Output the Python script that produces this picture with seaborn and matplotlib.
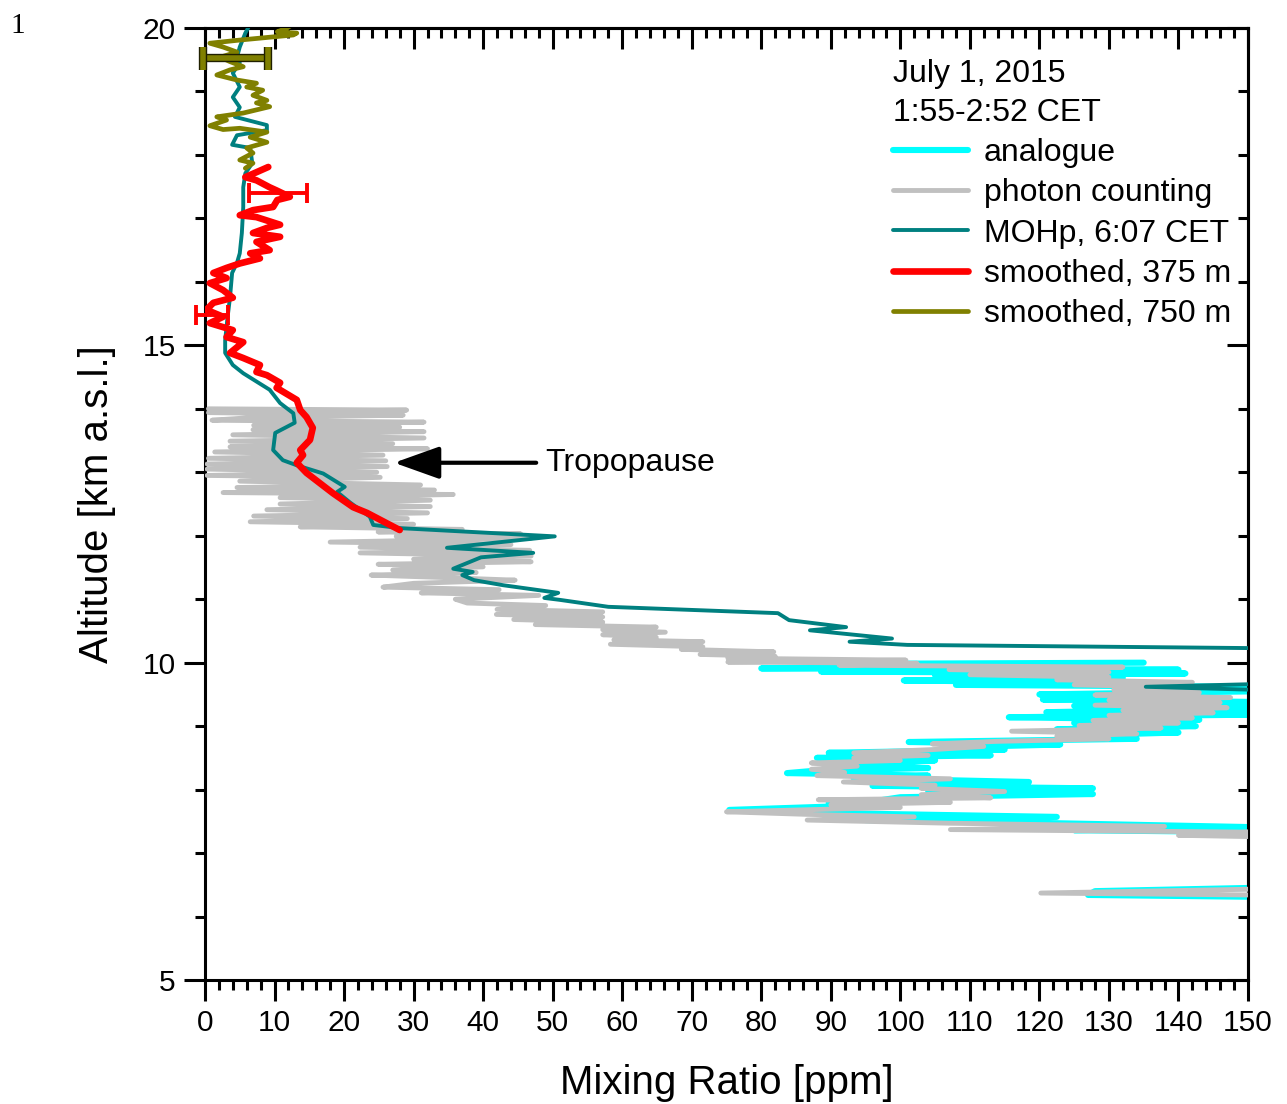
import numpy as np
import pandas as pd
import matplotlib
matplotlib.use("Agg")
import matplotlib.pyplot as plt
import seaborn as sns
from matplotlib.ticker import MultipleLocator
import matplotlib.patheffects as pe

# ---------------- data (altitude km, mixing ratio ppm) ----------------
analogue_alt = [10.00, 9.98, 9.95, 9.91, 9.89, 9.86, 9.83, 9.80, 9.76, 9.72, 9.68, 9.65, 9.62,
                9.55, 9.50, 9.46, 9.42, 9.38, 9.32, 9.28, 9.22, 9.18, 9.14, 9.10, 9.05, 9.00,
                8.95, 8.90, 8.85, 8.80, 8.75, 8.71, 8.67, 8.63, 8.58, 8.54, 8.50, 8.46, 8.40,
                8.34, 8.30, 8.26, 8.22, 8.18, 8.12, 8.06, 8.02, 7.98, 7.93, 7.88, 7.83, 7.79,
                7.74, 7.68, 7.63, 7.57, 7.52, 7.47, 7.41, 7.36, 7.32, 6.90, 6.50, 6.45, 6.40,
                6.34, 6.30]
analogue_val = [135, 90, 130, 80, 140, 88.6, 141, 105, 132, 100.5, 130, 108, 150,
                152, 120, 143, 120.5, 152, 125, 152, 121, 150, 115.6, 143, 125, 142.5,
                122.5, 140, 124, 134, 101.2, 123, 108, 115, 89.7, 113, 88, 105, 92,
                104, 88, 83.7, 104, 93.3, 118.5, 96, 127.7, 104, 127.7, 100, 97, 89.7,
                92, 75.4, 89.7, 122.5, 95, 122.5, 150, 125, 160, 200, 170, 150, 128,
                127, 160]

photon_alt = [14.00, 13.98, 13.94, 13.90, 13.86, 13.82, 13.79, 13.74, 13.71, 13.67, 13.64, 13.59,
              13.54, 13.49, 13.45, 13.40, 13.37, 13.32, 13.27, 13.22, 13.18, 13.13, 13.09, 13.05,
              13.00, 12.95, 12.92, 12.86, 12.80, 12.76, 12.72, 12.68, 12.65, 12.60, 12.56, 12.50,
              12.46, 12.41, 12.36, 12.31, 12.27, 12.22, 12.18, 12.14, 12.10, 12.06, 12.03, 11.99,
              11.96, 11.90, 11.86, 11.82, 11.77, 11.73, 11.68, 11.63, 11.59, 11.55, 11.51, 11.46,
              11.42, 11.38, 11.34, 11.30, 11.25, 11.19, 11.15, 11.10, 11.06, 11.00, 10.94, 10.90,
              10.84, 10.80, 10.76, 10.72, 10.68, 10.64, 10.60, 10.56, 10.52, 10.48, 10.44, 10.40,
              10.36, 10.33, 10.29, 10.25, 10.21, 10.17, 10.13, 10.10, 10.07, 10.04, 10.01, 9.99,
              9.96, 9.93, 9.89, 9.85, 9.81, 9.77, 9.73, 9.69, 9.65, 9.61, 9.57, 9.53, 9.49, 9.45,
              9.41, 9.37, 9.33, 9.29, 9.25, 9.21, 9.17, 9.13, 9.09, 9.05, 9.01, 8.97, 8.92, 8.88,
              8.84, 8.80, 8.76, 8.72, 8.68, 8.63, 8.58, 8.54, 8.50, 8.46, 8.42, 8.37, 8.32, 8.27,
              8.22, 8.17, 8.12, 8.07, 8.02, 7.97, 7.92, 7.87, 7.84, 7.80, 7.76, 7.72, 7.65, 7.61,
              7.57, 7.52, 7.47, 7.42, 7.37, 7.33, 7.28, 7.24, 6.90, 6.50, 6.43, 6.37, 6.33]
photon_val = [0.5, 29, 0.5, 28.5, 6.5, 1, 31.5, 7, 28, 6.9, 31.5, 4.0,
              31.5, 3.6, 27, 3.6, 32, 1.4, 25.6, 0.5, 26, 0.3, 26.2, 0.3,
              24.7, 0.3, 25.2, 5, 31, 4.6, 33, 2.6, 35.7, 10.8, 32.4, 10.8,
              32.4, 8.9, 32, 7, 29.1, 6.5, 30, 13.7, 37, 24.9, 45.4, 27.5,
              46.9, 18, 44, 22.3, 46.7, 22.3, 46.9, 30, 46.9, 24.9, 40, 27,
              39, 23.9, 34.7, 44.6, 30, 25.6, 42.3, 31.1, 48.0, 36, 37.7, 49.0,
              42, 57.2, 41.9, 57.2, 44.4, 57.2, 47.5, 64.9, 57.2, 66.2, 57.2, 64.9,
              58.8, 71.6, 58.3, 71.6, 68.5, 81.8, 71.2, 82, 75.2, 100.8, 75.2, 102.4,
              91.2, 132, 107, 130, 110, 130, 122.5, 142, 125, 143, 130.7, 143, 128, 147.5,
              130, 146, 128, 147, 132, 145, 130, 142, 127.7, 140, 125.7, 137.5, 116, 134,
              122.5, 130, 113.8, 104.6, 112, 104.6, 93.3, 104, 93.3, 100, 87.2, 93.8, 87.2, 92,
              88, 107.2, 91.8, 105, 103, 115, 103, 113, 88.2, 107.2, 90, 100, 75, 86.6,
              102, 86.6, 107.2, 138, 107.2, 150, 140, 160, 200, 170, 150, 120.2, 160]

mohp_alt = [20.05, 20.00, 19.92, 19.70, 19.54, 19.45, 19.29, 19.07, 18.91, 18.75, 18.60, 18.47,
            18.39, 18.31, 18.16, 18.11, 17.87, 17.71, 17.49, 17.18, 16.77, 16.45, 16.30, 16.14,
            15.76, 15.40, 15.08, 14.88, 14.69, 14.56, 14.30, 14.09, 13.93, 13.78, 13.62, 13.35,
            13.19, 13.11, 12.98, 12.77, 12.69, 12.52, 12.30, 12.17, 12.12, 11.99, 11.81, 11.73,
            11.66, 11.48, 11.43, 11.38, 11.30, 11.22, 11.10, 11.02, 10.99, 10.88, 10.78, 10.67,
            10.56, 10.51, 10.38, 10.33, 10.28, 10.23, 10.20, 9.90, 9.70, 9.62, 9.53, 9.30, 8.00, 6.00]
mohp_val = [6.3, 6.2, 5.8, 5.0, 4.6, 5.0, 4.0, 5.0, 4.0, 5.0, 4.3, 8.9,
            8.9, 4.6, 3.9, 6.5, 6.8, 5.8, 5.5, 5.5, 5.3, 5.0, 4.6, 3.9,
            3.6, 3.2, 2.9, 2.9, 4.0, 5.5, 9.3, 10.8, 12.7, 12.9, 10.1, 9.8,
            11.2, 13.2, 17.0, 20.1, 19.0, 20.9, 23.7, 24.2, 28.0, 50.3, 34.8, 47.2,
            39.7, 35.7, 38.5, 37.0, 38.7, 42.9, 50.8, 48.8, 51.0, 58.0, 82.4, 84.0,
            92.2, 87.0, 98.8, 92.7, 101, 150, 165, 210, 165, 135.3, 165, 220, 300, 400]

sm375_alt = [17.81, 17.65, 17.60, 17.49, 17.44, 17.34, 17.29, 17.18, 17.13, 17.05, 17.02, 16.90,
             16.85, 16.77, 16.71, 16.63, 16.50, 16.45, 16.37, 16.29, 16.22, 16.14, 16.06, 15.98,
             15.87, 15.75, 15.67, 15.56, 15.45, 15.35, 15.24, 15.13, 15.05, 14.88, 14.80, 14.69,
             14.58, 14.53, 14.41, 14.33, 14.14, 13.98, 13.87, 13.70, 13.51, 13.35, 13.27, 13.15,
             12.99, 12.83, 12.67, 12.45, 12.36, 12.09]
sm375_val = [9.1, 5.8, 7.4, 9.3, 10.3, 12.2, 10.4, 9.8, 6.9, 5.0, 7.4, 10.8,
             8.9, 6.9, 10.8, 7.4, 9.3, 6.5, 7.9, 5.0, 3.1, 1.2, 3.1, 0.7,
             2.6, 4.0, 1.2, 0.2, 2.6, 0.7, 4.0, 3.1, 5.5, 3.6, 5.5, 7.9,
             7.4, 8.9, 10.8, 10.3, 13.2, 13.7, 14.6, 15.5, 15.1, 13.7, 14.1, 13.2,
             14.6, 16.5, 18.4, 21.3, 23.3, 28.0]

sm750_alt = [20.05, 20.00, 19.94, 19.92, 19.89, 19.86, 19.81, 19.76, 19.70, 19.62, 19.54, 19.47,
             19.39, 19.34, 19.26, 19.18, 19.13, 19.07, 19.02, 18.94, 18.86, 18.82, 18.76, 18.71,
             18.66, 18.60, 18.55, 18.46, 18.40, 18.42, 18.36, 18.28, 18.20, 18.11, 18.03, 17.92,
             17.87, 17.79]
sm750_val = [12.5, 11.8, 10.4, 13.2, 12.7, 9.8, 5.0, 0.7, 2.6, 4.6, 2.2, 3.6,
             5.5, 3.6, 1.7, 4.6, 7.4, 6.0, 8.3, 6.9, 8.9, 7.4, 9.3, 7.4,
             5.5, 1.7, 3.1, 0.7, 2.6, 5.0, 8.9, 6.5, 8.9, 6.0, 6.9, 5.0,
             6.9, 5.8]

err375_alt = [17.40, 15.48]
err375_val = [10.5, 1.0]
err375_dx = [4.2, 2.3]
err750_alt = [19.52]
err750_val = [4.4]
err750_dx = [4.7]

series_labels = ["analogue", "photon counting", "MOHp, 6:07 CET",
                 "smoothed, 375 m", "smoothed, 750 m"]
legend_title = "July 1, 2015\n1:55-2:52 CET"
x_ticks = [0, 10, 20, 30, 40, 50, 60, 70, 80, 90, 100, 110, 120, 130, 140, 150]
y_ticks = [5, 10, 15, 20]

# ---------------- styling ----------------
sns.set_style("ticks")
plt.rcParams['font.family'] = ['Liberation Sans', 'DejaVu Sans']
plt.rcParams.update({"text.color": "black", "axes.labelcolor": "black",
                     "xtick.color": "black", "ytick.color": "black",
                     "axes.edgecolor": "black"})

fig = plt.figure(figsize=(12.87, 11.04), dpi=100)
ax = fig.add_axes([205 / 1287, 1 - 980 / 1104, (1248 - 205) / 1287, (980 - 28) / 1104])

series = [
    (analogue_alt, analogue_val, "#00FFFF", 4.4, 2),
    (photon_alt, photon_val, "#C0C0C0", 3.5, 3),
    (mohp_alt, mohp_val, "#008080", 2.8, 4),
    (sm375_alt, sm375_val, "#FF0000", 4.8, 5),
    (sm750_alt, sm750_val, "#808000", 3.4, 6),
]
for (alt, val, col, lw, z), lab in zip(series, series_labels):
    df = pd.DataFrame({"ppm": val, "alt": alt})
    sns.lineplot(data=df, x="ppm", y="alt", sort=False, estimator=None,
                 color=col, lw=lw, label=lab, ax=ax, zorder=z,
                 solid_capstyle="round", solid_joinstyle="round")

eb = ax.errorbar(err375_val, err375_alt, xerr=err375_dx, fmt="none", ecolor="#FF0000",
                 elinewidth=2.8, capsize=7, capthick=2.8, zorder=7)
for art in eb.get_children():
    art.set_clip_on(False)
eb2 = ax.errorbar(err750_val, err750_alt, xerr=err750_dx, fmt="none", ecolor="#808000",
                  elinewidth=4, capsize=8, capthick=4, zorder=7)
for art in eb2.get_children():
    art.set_clip_on(False)
    art.set_path_effects([pe.Stroke(linewidth=6, foreground="#202000"), pe.Normal()])

ax.set_xlim(0, 150)
ax.set_ylim(5, 20)
ax.set_xticks(x_ticks)
ax.set_yticks(y_ticks)
ax.xaxis.set_minor_locator(MultipleLocator(2))
ax.yaxis.set_minor_locator(MultipleLocator(1))
ax.tick_params(which="major", direction="out", length=15, width=2.2, labelsize=21.5,
               pad=6, colors="black")
ax.tick_params(which="minor", direction="out", length=7, width=2.2)
for s in ax.spines.values():
    s.set_linewidth(2.2)
    s.set_color("black")

secx = ax.secondary_xaxis("top")
secx.set_xticks(x_ticks)
secx.xaxis.set_minor_locator(MultipleLocator(2))
secx.tick_params(which="major", direction="in", length=15, width=2.2, labeltop=False)
secx.tick_params(which="minor", direction="in", length=7, width=2.2)
secx.spines["top"].set_linewidth(2.2)

secy = ax.secondary_yaxis("right")
secy.set_yticks(y_ticks)
secy.yaxis.set_minor_locator(MultipleLocator(1))
secy.tick_params(which="major", direction="in", length=15, width=2.2, labelright=False)
secy.tick_params(which="minor", direction="in", length=7, width=2.2)
secy.spines["right"].set_linewidth(2.2)

ax.set_xlabel("Mixing Ratio [ppm]", fontsize=29, labelpad=19)
ax.set_ylabel("Altitude [km a.s.l.]", fontsize=29, labelpad=19)

leg = ax.legend(title=legend_title, loc="upper left", bbox_to_anchor=(0.6596, 0.967),
                frameon=False, fontsize=23, title_fontsize=23, handlelength=2.35,
                handletextpad=0.5, labelspacing=0.32, borderpad=0, borderaxespad=0,
                alignment="left")
leg.get_title().set_linespacing(1.37)
leg.get_title().set_color("black")
for t in leg.get_texts():
    t.set_color("black")

ax.annotate("Tropopause", xy=(27.2, 13.15), xytext=(48.9, 13.15),
            fontsize=23, va="center", ha="left",
            arrowprops=dict(arrowstyle="-|>,head_length=1.4,head_width=0.5",
                            mutation_scale=20, lw=3, color="black", shrinkA=4, shrinkB=0),
            zorder=8)

fig.text(10 / 1287, 1 - 26 / 1104, "1", family=["Liberation Serif", "DejaVu Serif"],
         fontsize=21, va="center", ha="left")

fig.savefig("out.png", dpi=100)
